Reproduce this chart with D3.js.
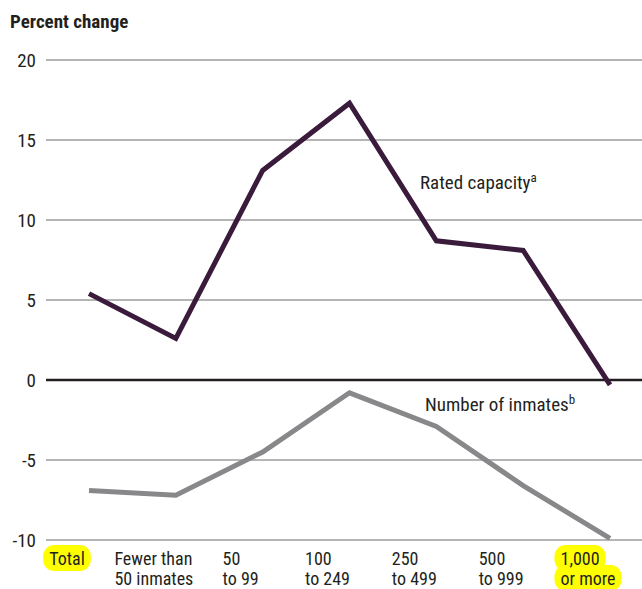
<!DOCTYPE html>
<html><head><meta charset="utf-8">
<script src="https://cdn.jsdelivr.net/npm/d3@7/dist/d3.min.js"></script>
<style>
body{margin:0;background:#fff;}
text{font-family:"Liberation Sans Narrow","Roboto Condensed","DejaVu Sans Condensed",sans-serif;fill:#231f20;}
</style></head>
<body>
<svg id="c" width="642" height="589"></svg>
<script>
const categories = ["Total", "Fewer than|50 inmates", "50|to 99", "100|to 249", "250|to 499", "500|to 999", "1,000|or more"];
const highlighted = ["Total", "1,000|or more"];
const ratedCapacity = [5.4, 2.6, 13.1, 17.3, 8.7, 8.1, -0.3];
const numberOfInmates = [-6.9, -7.2, -4.5, -0.8, -2.9, -6.6, -9.9];
const yTicks = [20, 15, 10, 5, 0, -5, -10];

const svg = d3.select("#c");
const x = d3.scalePoint().domain(categories).range([89, 610]);
const y = d3.scaleLinear().domain([-10, 20]).range([540, 60]);

// gridlines
svg.append("g").selectAll("line").data(yTicks).join("line")
  .attr("x1", 46).attr("x2", 642)
  .attr("y1", d => y(d)).attr("y2", d => y(d))
  .attr("stroke", d => d === 0 ? "#231f20" : "#b5b5b5")
  .attr("stroke-width", d => d === 0 ? 2.5 : 2);

// y tick labels
svg.append("g").selectAll("text").data(yTicks).join("text")
  .attr("x", 36).attr("y", d => y(d) + 7)
  .attr("text-anchor", "end").attr("font-size", 19)
  .text(d => d);

svg.append("text").attr("x", 10).attr("y", 28)
  .attr("font-size", 19).attr("font-weight", "bold").text("Percent change");

const line = d3.line().x((d, i) => x(categories[i])).y(d => y(d));
svg.append("path").datum(numberOfInmates).attr("d", line)
  .attr("fill", "none").attr("stroke", "#88888a").attr("stroke-width", 5).attr("stroke-linejoin", "miter");
svg.append("path").datum(ratedCapacity).attr("d", line)
  .attr("fill", "none").attr("stroke", "#3a1b3b").attr("stroke-width", 5).attr("stroke-linejoin", "miter");

// annotations
const a1 = svg.append("text").attr("x", 420).attr("y", 189).attr("font-size", 19);
a1.append("tspan").text("Rated capacity");
a1.append("tspan").attr("font-size", 13).attr("dy", -7).text("a");
const a2 = svg.append("text").attr("x", 425).attr("y", 411).attr("font-size", 19);
a2.append("tspan").text("Number of inmates");
a2.append("tspan").attr("font-size", 13).attr("dy", -7).text("b");

// category labels
const hl = svg.append("g");
const lab = svg.append("g");
categories.forEach(c => {
  const lines = c.split("|");
  const g = lab.append("g");
  const ts = lines.map((l, i) => g.append("text").attr("y", 565 + i * 20).attr("font-size", 18).text(l));
  const widths = ts.map(t => t.node().getComputedTextLength());
  const w = Math.max(...widths);
  const left = x(c) - 22 - w / 2;
  ts.forEach(t => t.attr("x", left));
  if (highlighted.includes(c)) {
    ts.forEach((t, i) => {
      hl.append("rect").attr("x", left - 6).attr("y", 545 + i * 20)
        .attr("width", widths[i] + 12).attr("height", 26)
        .attr("rx", 11).attr("fill", "#ffff00");
    });
  }
});
</script>
</body></html>
